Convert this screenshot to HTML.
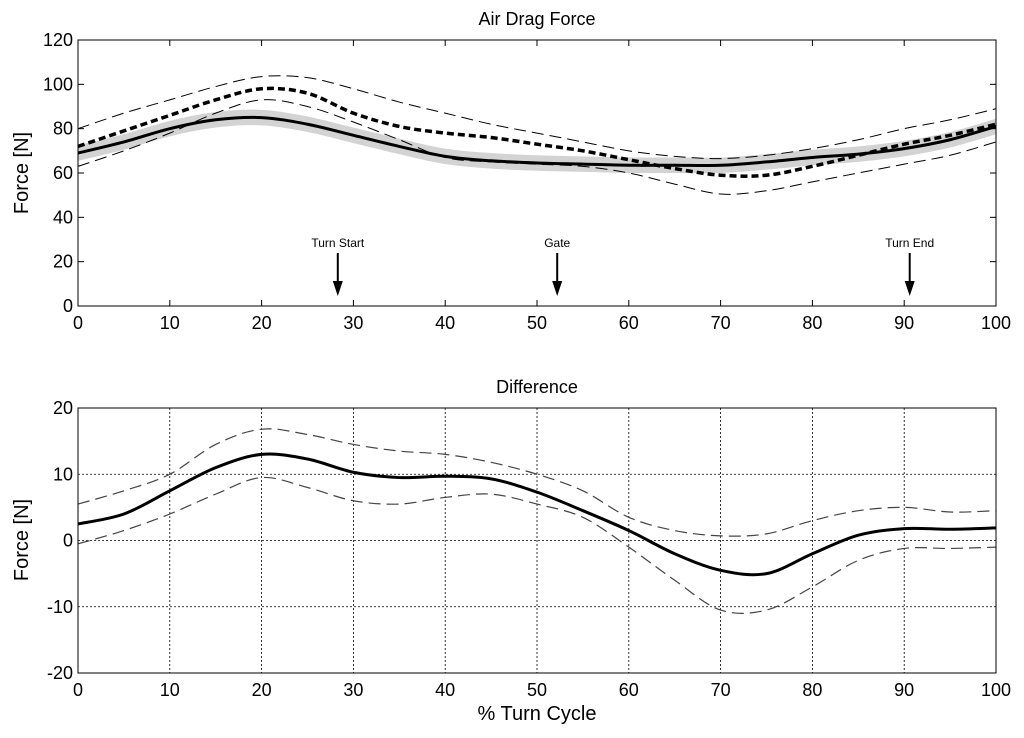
<!DOCTYPE html>
<html><head><meta charset="utf-8"><style>
body{margin:0;background:#fff;}
svg text{font-family:"Liberation Sans",Arial,sans-serif;fill:#000;}
</style></head><body>
<svg id="chart" width="1024" height="733" xmlns="http://www.w3.org/2000/svg"></svg>
<script>
const xs = [0,5,10,15,20,25,30,35,40,45,50,55,60,65,70,75,80,85,90,95,100];
const topSolid = [69,74,80,84,85,82,77,72,67.5,65.5,64.5,64,63.5,63.5,63.5,65,67,68.5,71,75,81];
const topDashMean = [72,79,86,93,98,96,87,81,78,76,73,70,66,62,59,59,63,68,73,77,82];
const topUpper = [80,87,93,99,103.5,103,98,92,87,82,78,74,70,67.5,66.5,68,71,75,80,84,89];
const topLower = [63,70,78,87,93,90,83,75,67,65,64,63,60,55,50.5,52,56,60,64,68,74];
const bandHalf = 3.5;
const diffMean = [2.5,4,7.5,11,13,12.3,10.3,9.5,9.7,9.3,7.3,4.5,1.5,-2,-4.5,-5,-2,0.8,1.8,1.7,1.9];
const diffUpper = [5.5,7.5,10,14.5,16.8,16,14.5,13.5,13,11.8,10,7.5,3.5,1.5,0.7,1,3,4.5,5,4.3,4.5];
const diffLower = [-0.5,1.5,4,7,9.5,8,6,5.5,6.5,7,5.5,3.5,-1,-6,-10.5,-10.5,-7,-3,-1.2,-1.2,-1];
const xTicks = [0,10,20,30,40,50,60,70,80,90,100];
const topYTicks = [0,20,40,60,80,100,120];
const botYTicks = [-20,-10,0,10,20];
const markers = [{x:28.3,label:"Turn Start"},{x:52.2,label:"Gate"},{x:90.6,label:"Turn End"}];

const NS="http://www.w3.org/2000/svg";
const svg=document.getElementById('chart');
function el(t,a,p){const e=document.createElementNS(NS,t);for(const k in a)e.setAttribute(k,a[k]);(p||svg).appendChild(e);return e;}
const X0=78,X1=996;
const sx=v=>X0+(v/100)*(X1-X0);
const syT=v=>306-(v/120)*(306-40);
const syB=v=>673-((v+20)/40)*(673-408);
function smooth(pts){let d="M"+pts[0][0]+","+pts[0][1];for(let i=0;i<pts.length-1;i++){const p0=pts[Math.max(0,i-1)],p1=pts[i],p2=pts[i+1],p3=pts[Math.min(pts.length-1,i+2)];d+=" C"+(p1[0]+(p2[0]-p0[0])/6)+","+(p1[1]+(p2[1]-p0[1])/6)+" "+(p2[0]-(p3[0]-p1[0])/6)+","+(p2[1]-(p3[1]-p1[1])/6)+" "+p2[0]+","+p2[1];}return d;}
function line(arr,sy,attrs,name){const p=el('path',Object.assign({d:smooth(xs.map((x,i)=>[sx(x),sy(arr[i])])),fill:'none'},attrs));

return p;}

let t=el('text',{x:537,y:25,'text-anchor':'middle','font-size':18});t.textContent="Air Drag Force";


t=el('text',{x:537,y:393,'text-anchor':'middle','font-size':18});t.textContent="Difference";


t=el('text',{x:537,y:720,'text-anchor':'middle','font-size':20});t.textContent="% Turn Cycle";


t=el('text',{x:28,y:173,'text-anchor':'middle','font-size':20,transform:'rotate(-90 28 173)'});t.textContent="Force [N]";


t=el('text',{x:28,y:540,'text-anchor':'middle','font-size':20,transform:'rotate(-90 28 540)'});t.textContent="Force [N]";



const up=xs.map((x,i)=>[sx(x),syT(topSolid[i]+bandHalf)]),lo=xs.map((x,i)=>[sx(x),syT(topSolid[i]-bandHalf)]).reverse();
const band=el('path',{d:smooth(up)+" L"+smooth(lo).slice(1)+" Z",fill:'#d3d3d3',stroke:'none'});


line(topUpper,syT,{stroke:'#000','stroke-width':1,'stroke-dasharray':'12,6'},'upper-bound-line');
line(topLower,syT,{stroke:'#000','stroke-width':1,'stroke-dasharray':'12,6'},'lower-bound-line');
line(topDashMean,syT,{stroke:'#000','stroke-width':3.5,'stroke-dasharray':'7,4'},'dashed-mean-line');
line(topSolid,syT,{stroke:'#000','stroke-width':3},'solid-mean-line');

el('rect',{x:X0,y:40,width:X1-X0,height:266,fill:'none',stroke:'#000','stroke-width':1});
xTicks.forEach(v=>{el('line',{x1:sx(v),x2:sx(v),y1:306,y2:300,stroke:'#000'});el('line',{x1:sx(v),x2:sx(v),y1:40,y2:46,stroke:'#000'});
const tt=el('text',{x:sx(v),y:329,'text-anchor':'middle','font-size':18});tt.textContent=v;

});
topYTicks.forEach(v=>{el('line',{x1:X0,x2:X0+6,y1:syT(v),y2:syT(v),stroke:'#000'});el('line',{x1:X1,x2:X1-6,y1:syT(v),y2:syT(v),stroke:'#000'});
const tt=el('text',{x:X0-5,y:syT(v)+6,'text-anchor':'end','font-size':18});tt.textContent=v;

});
markers.forEach(m=>{const g=el('g',{});


el('text',{x:sx(m.x),y:247,'text-anchor':'middle','font-size':12},g).textContent=m.label;
el('line',{x1:sx(m.x),x2:sx(m.x),y1:253,y2:286,stroke:'#000','stroke-width':2},g);
el('path',{d:`M${sx(m.x)-5},${281} L${sx(m.x)+5},${281} L${sx(m.x)},${296} Z`,fill:'#000'},g);});

xTicks.forEach(v=>{if(v>0&&v<100)el('line',{x1:sx(v),x2:sx(v),y1:408,y2:673,stroke:'#000','stroke-width':0.8,'stroke-dasharray':'2,2'});});
botYTicks.forEach(v=>{if(v>-20&&v<20)el('line',{x1:X0,x2:X1,y1:syB(v),y2:syB(v),stroke:'#000','stroke-width':0.8,'stroke-dasharray':'2,2'});});
line(diffUpper,syB,{stroke:'#444','stroke-width':1.2,'stroke-dasharray':'12,6'},'diff-upper-line');
line(diffLower,syB,{stroke:'#444','stroke-width':1.2,'stroke-dasharray':'12,6'},'diff-lower-line');
line(diffMean,syB,{stroke:'#000','stroke-width':3},'diff-mean-line');
el('rect',{x:X0,y:408,width:X1-X0,height:265,fill:'none',stroke:'#000','stroke-width':1});
xTicks.forEach(v=>{const tt=el('text',{x:sx(v),y:696,'text-anchor':'middle','font-size':18});tt.textContent=v;

});
botYTicks.forEach(v=>{const tt=el('text',{x:X0-5,y:syB(v)+6,'text-anchor':'end','font-size':18});tt.textContent=v;

});
</script>
</body></html>
